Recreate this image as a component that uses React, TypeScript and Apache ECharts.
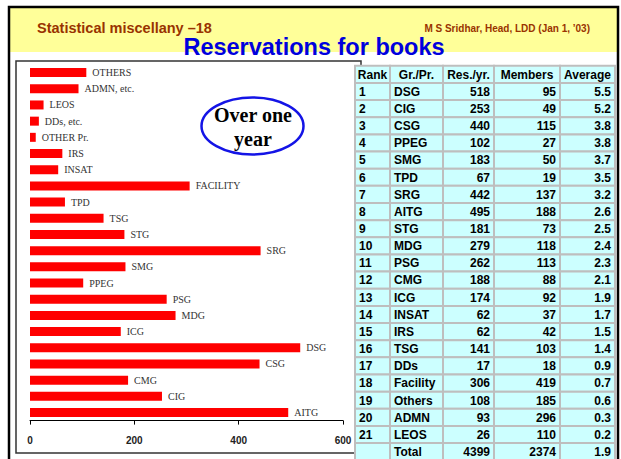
import React, { useEffect, useRef } from "react";
import * as echarts from "echarts";

// ---- Bar chart data (bottom to top) ----
const barCategories = [
  "AITG", "CIG", "CMG", "CSG", "DSG", "ICG", "MDG", "PSG", "PPEG", "SMG", "SRG",
  "STG", "TSG", "TPD", "FACILITY", "INSAT", "IRS", "OTHER Pr.", "DDs, etc.", "LEOS",
  "ADMN, etc.", "OTHERS",
];
const barValues = [
  495, 253, 188, 440, 518, 174, 279, 262, 102, 183, 442,
  181, 141, 67, 306, 54, 62, 11, 17, 26,
  93, 108,
];
const xTicks = [0, 200, 400, 600];

// ---- Table data ----
const tableHeaders = ["Rank", "Gr./Pr.", "Res./yr.", "Members", "Average"];
const ranks = ["1","2","3","4","5","6","7","8","9","10","11","12","13","14","15","16","17","18","19","20","21",""];
const groups = ["DSG","CIG","CSG","PPEG","SMG","TPD","SRG","AITG","STG","MDG","PSG","CMG","ICG","INSAT","IRS","TSG","DDs","Facility","Others","ADMN","LEOS","Total"];
const resPerYear = [518,253,440,102,183,67,442,495,181,279,262,188,174,62,62,141,17,306,108,93,26,4399];
const members = [95,49,115,27,50,19,137,188,73,118,113,88,92,37,42,103,18,419,185,296,110,2374];
const averages = ["5.5","5.2","3.8","3.8","3.7","3.5","3.2","2.6","2.5","2.4","2.3","2.1","1.9","1.7","1.5","1.4","0.9","0.7","0.6","0.3","0.2","1.9"];

const headerTitle = "Statistical miscellany \u201318";
const headerAuthor = "M S Sridhar, Head, LDD (Jan 1, \u201903)";
const mainTitle = "Reservations for books";
const calloutLines = ["Over one", "year"];

export default function App() {
  const ref = useRef<HTMLDivElement>(null);

  useEffect(() => {
    if (!ref.current) return;
    const chart = echarts.init(ref.current, undefined, { renderer: "svg" });

    const sans = "'Liberation Sans', Arial, sans-serif";
    const serif = "'Liberation Serif', 'Times New Roman', serif";

    // table geometry
    const colEdges = [355, 390, 443, 494, 560, 615];
    const rowTop = 65.8;
    const rowH = 17.15;
    const tableGraphics: any[] = [];
    const allRows = [tableHeaders].concat(
      groups.map((g, i) => [ranks[i], g, String(resPerYear[i]), String(members[i]), averages[i]])
    );
    allRows.forEach((row, r) => {
      const y = rowTop + r * rowH;
      row.forEach((cell, c) => {
        const x0 = colEdges[c];
        const x1 = colEdges[c + 1];
        tableGraphics.push({
          type: "rect",
          z: 10,
          shape: { x: x0, y, width: x1 - x0, height: rowH },
          style: { fill: "#CCFFFF", stroke: "#BEBEBE", lineWidth: 2 },
        });
        let align: string;
        let tx: number;
        if (r === 0) {
          align = "center";
          tx = (x0 + x1) / 2;
        } else if (c < 2) {
          align = "left";
          tx = x0 + 4;
        } else {
          align = "right";
          tx = x1 - 4;
        }
        tableGraphics.push({
          type: "text",
          z: 11,
          style: {
            text: cell,
            x: tx,
            y: y + rowH / 2 + 0.3,
            fill: "#000",
            font: `bold 12px ${sans}`,
            textAlign: align,
            textVerticalAlign: "middle",
          },
        });
      });
    });

    chart.setOption({
      animation: false,
      backgroundColor: "#ffffff",
      grid: { left: 30, right: 278, top: 64.5, bottom: 38.4 },
      xAxis: {
        type: "value",
        min: xTicks[0],
        max: xTicks[xTicks.length - 1],
        interval: 200,
        axisLine: { show: true, lineStyle: { color: "#000", width: 1 } },
        axisTick: { show: true, inside: false, length: 4, lineStyle: { color: "#000" } },
        splitLine: { show: false },
        axisLabel: {
          margin: 15,
          color: "#222",
          fontWeight: "bold",
          fontSize: 10,
          fontFamily: sans,
        },
      },
      yAxis: {
        type: "category",
        data: barCategories,
        axisLine: { show: false },
        axisTick: { show: false },
        axisLabel: { show: false },
        splitLine: { show: false },
      },
      series: [
        {
          type: "bar",
          data: barValues,
          barWidth: 9,
          itemStyle: { color: "#FF0000" },
          label: {
            show: true,
            position: "right",
            distance: 6,
            formatter: "{b}",
            color: "#333",
            fontSize: 10,
            fontFamily: serif,
          },
        },
      ],
      graphic: [
        // yellow header band
        { type: "rect", z: 0, shape: { x: 10, y: 8, width: 607, height: 44 }, style: { fill: "#FFFF99" } },
        // outer black frame
        { type: "rect", z: 1, shape: { x: 9, y: 7, width: 609, height: 480 }, style: { fill: "none", stroke: "#000", lineWidth: 2.5 } },
        // chart box
        { type: "rect", z: 1, shape: { x: 16, y: 61, width: 345, height: 392 }, style: { fill: "none", stroke: "#333", lineWidth: 1.5 } },
        {
          type: "text", z: 5,
          style: { text: headerTitle, x: 37, y: 28, fill: "#993300", font: `bold 14.5px ${sans}`, textAlign: "left", textVerticalAlign: "middle" },
        },
        {
          type: "text", z: 5,
          style: { text: headerAuthor, x: 590, y: 28.5, fill: "#993300", font: `bold 10px ${sans}`, textAlign: "right", textVerticalAlign: "middle" },
        },
        {
          type: "text", z: 5,
          style: { text: mainTitle, x: 314, y: 47, fill: "#0000DD", font: `bold 23.5px ${sans}`, textAlign: "center", textVerticalAlign: "middle" },
        },
        // callout ellipse
        {
          type: "ellipse", z: 5,
          shape: { cx: 252.5, cy: 126, rx: 51, ry: 28.5 },
          style: { fill: "#fff", stroke: "#1414E6", lineWidth: 2.5 },
        },
        {
          type: "text", z: 6,
          style: { text: calloutLines[0], x: 253, y: 115, fill: "#000", font: `bold 20px ${serif}`, textAlign: "center", textVerticalAlign: "middle" },
        },
        {
          type: "text", z: 6,
          style: { text: calloutLines[1], x: 253, y: 139, fill: "#000", font: `bold 20px ${serif}`, textAlign: "center", textVerticalAlign: "middle" },
        },
        ...tableGraphics,
      ],
    });

    return () => chart.dispose();
  }, []);

  return (
    <div
      ref={ref}
      style={{ position: "absolute", left: 0, top: 0, width: 621, height: 459 }}
    />
  );
}
